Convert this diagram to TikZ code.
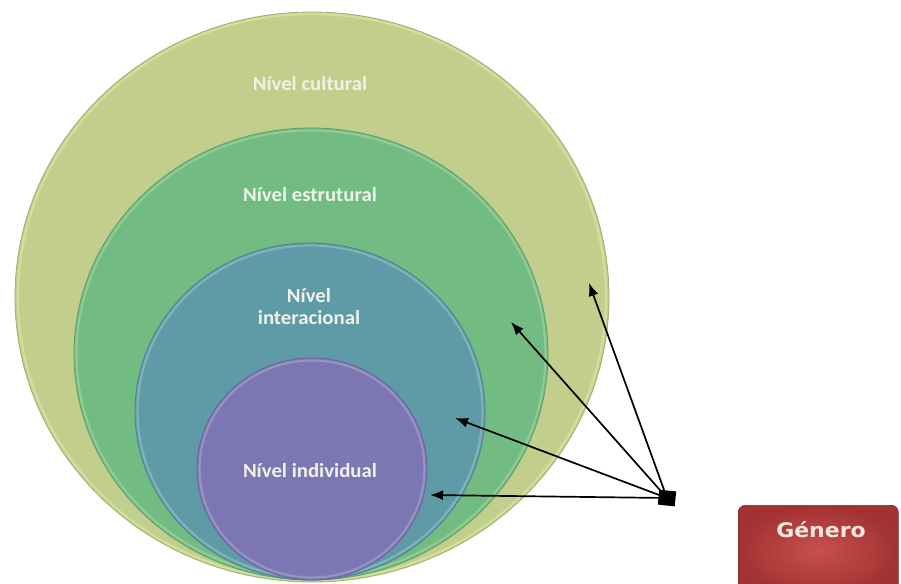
\documentclass[tikz,border=0pt]{standalone}
\usepackage{fontspec}
\setmainfont{Carlito}
\newfontfamily\genfont{DejaVu Sans}
\usetikzlibrary{shapes.geometric,arrows.meta}
\definecolor{cultfill}{HTML}{C2CE8C}
\definecolor{cultline}{HTML}{9FAE74}
\definecolor{estrfill}{HTML}{72BC84}
\definecolor{estrline}{HTML}{5E9C70}
\definecolor{interfill}{HTML}{5F9BA6}
\definecolor{interline}{HTML}{4E8290}
\definecolor{indfill}{HTML}{7C77B2}
\definecolor{indline}{HTML}{6A64A0}
\definecolor{rimlight}{HTML}{E4F5B0}
\definecolor{labeltext}{HTML}{F0F2E8}
\definecolor{boxin}{HTML}{C7504E}
\definecolor{boxout}{HTML}{A23332}
\definecolor{boxtext}{HTML}{F8E8E2}
\tikzset{
  ring/.style={ellipse, inner sep=0pt, line width=0.8pt},
  rim/.style={line width=2.2pt, draw opacity=0.45},
  lvl/.style={text=labeltext, font=\fontsize{20}{22}\selectfont\bfseries, align=center, xscale=1.04},
  arr/.style={line width=1.7pt, -{Latex[length=13pt,width=10pt]}},
}
\begin{document}
\begin{tikzpicture}[x=1pt,y=-1pt]
\useasboundingbox (0,0) rectangle (901,583);
% rings
\node[ring, draw=cultline, fill=cultfill, minimum width=594pt, minimum height=570pt] (cultural) at (312,297) {};
\draw[rim, rimlight] (312,297) ellipse [x radius=294pt, y radius=283pt];
\node[ring, draw=estrline, fill=estrfill, minimum width=474pt, minimum height=452pt] (estrutural) at (311,354) {};
\draw[rim, rimlight!60!estrfill] (311,354) ellipse [x radius=234.5pt, y radius=223.5pt];
\node[ring, draw=interline, fill=interfill, minimum width=350pt, minimum height=337pt] (interacional) at (310,411.5) {};
\draw[rim, white!50!interfill] (310,411.5) ellipse [x radius=172.5pt, y radius=166pt];
\node[ring, draw=indline, fill=indfill, minimum width=230pt, minimum height=222pt] (individual) at (312,469) {};
\draw[rim, white!45!indfill] (312,469) ellipse [x radius=112.5pt, y radius=108.5pt];
% labels
\node[lvl] (lcult) at (310,84) {Nível cultural};
\node[lvl] (lestr) at (310,195) {Nível estrutural};
\node[lvl] (linter) at (309,307) {Nível\\interacional};
\node[lvl] (lind) at (310,471) {Nível individual};
% source square and arrows
\node[fill=black, minimum width=17pt, minimum height=15pt, inner sep=0pt, rotate=-6] (src) at (667,498) {};
\coordinate (tcult) at (589,283);
\coordinate (testr) at (511,322);
\coordinate (tinter) at (455,418);
\coordinate (tind) at (430,495);
\draw[arr] (src.center) -- (tcult);
\draw[arr] (src.center) -- (testr);
\draw[arr] (src.center) -- (tinter);
\draw[arr] (src.center) -- (tind);
% Genero box
\node[draw=boxout!80!black, line width=0.6pt, rounded corners=7pt, inner color=boxin, outer color=boxout,
      minimum width=160pt, minimum height=90pt, anchor=north west] (genbox) at (738,505) {};
\node[text=boxtext, font=\genfont\fontsize{20}{22}\selectfont\bfseries, xscale=1.1] (genero) at (821,530) {Género};
\end{tikzpicture}
\end{document}
